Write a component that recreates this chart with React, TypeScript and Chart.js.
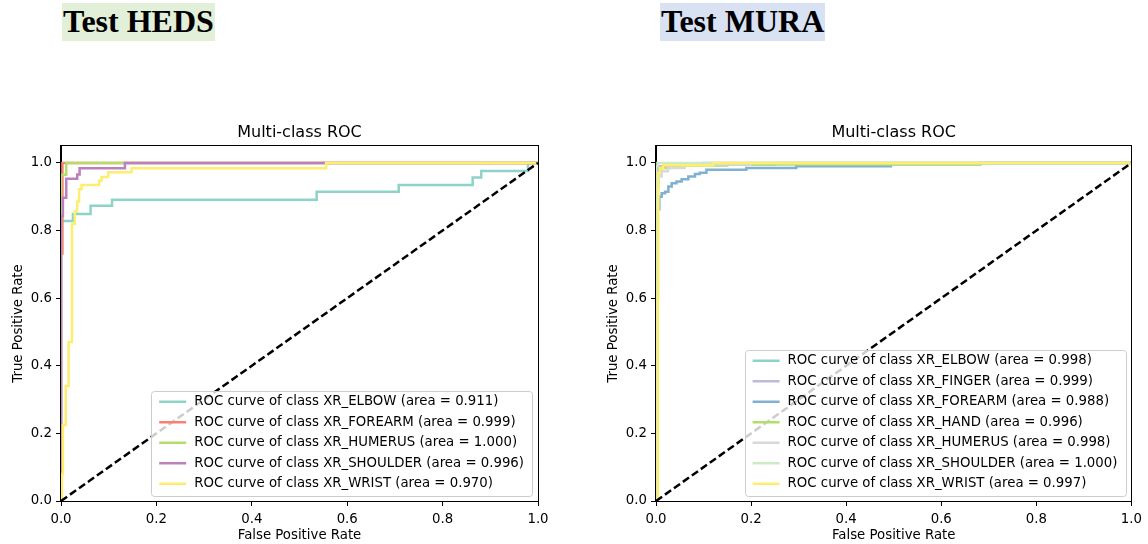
import React, { useEffect, useRef } from "react";
import { Chart, registerables } from "chart.js";

Chart.register(...registerables);

const FONT = "'DejaVu Sans', 'Liberation Sans', sans-serif";

// ---- tick labels ----
const xTicks = [0, 0.2, 0.4, 0.6, 0.8, 1.0];
const yTicks = [0, 0.2, 0.4, 0.6, 0.8, 1.0];

// ---- diagonal (chance) line ----
const diagX = [0, 1];
const diagY = [0, 1];

// ---- Test HEDS ----
const hedsClasses = ["XR_ELBOW", "XR_FOREARM", "XR_HUMERUS", "XR_SHOULDER", "XR_WRIST"];
const hedsAreas = [0.911, 0.999, 1.0, 0.996, 0.97];

const hedsElbowFpr = [0, 0, 0.025, 0.025, 0.062, 0.062, 0.107, 0.107, 0.536, 0.536, 0.708, 0.708, 0.863, 0.863, 0.881, 0.881, 0.979, 0.979, 1];
const hedsElbowTpr = [0, 0.828, 0.828, 0.849, 0.849, 0.873, 0.873, 0.891, 0.891, 0.915, 0.915, 0.935, 0.935, 0.957, 0.957, 0.976, 0.976, 1, 1];

const hedsForearmFpr = [0, 0, 0.003, 0.003, 1];
const hedsForearmTpr = [0, 0.732, 0.732, 1, 1];

const hedsHumerusFpr = [0, 0, 0.011, 0.011, 1];
const hedsHumerusTpr = [0, 0.965, 0.965, 1, 1];

const hedsShoulderFpr = [0, 0, 0.004, 0.004, 0.011, 0.011, 0.034, 0.034, 0.039, 0.039, 0.134, 0.134, 1];
const hedsShoulderTpr = [0, 0.843, 0.843, 0.897, 0.897, 0.953, 0.953, 0.966, 0.966, 0.984, 0.984, 1, 1];

const hedsWristFpr = [0, 0.002, 0.002, 0.004, 0.004, 0.01, 0.01, 0.016, 0.016, 0.023, 0.023, 0.029, 0.029, 0.034, 0.034, 0.038, 0.038, 0.043, 0.043, 0.08, 0.08, 0.085, 0.085, 0.099, 0.099, 0.148, 0.148, 0.556, 0.556, 1];
const hedsWristTpr = [0, 0, 0.08, 0.08, 0.225, 0.225, 0.34, 0.34, 0.47, 0.47, 0.819, 0.819, 0.856, 0.856, 0.886, 0.886, 0.922, 0.922, 0.935, 0.935, 0.948, 0.948, 0.958, 0.958, 0.972, 0.972, 0.984, 0.984, 1, 1];

// ---- Test MURA ----
const muraClasses = ["XR_ELBOW", "XR_FINGER", "XR_FOREARM", "XR_HAND", "XR_HUMERUS", "XR_SHOULDER", "XR_WRIST"];
const muraAreas = [0.998, 0.999, 0.988, 0.996, 0.998, 1.0, 0.997];

const muraElbowFpr = [0, 0, 0.005, 0.005, 0.01, 0.01, 0.05, 0.05, 0.25, 0.25, 1];
const muraElbowTpr = [0, 0.93, 0.93, 0.98, 0.98, 0.99, 0.99, 0.995, 0.995, 1, 1];

const muraFingerFpr = [0, 0, 0.004, 0.004, 0.02, 0.02, 0.1, 0.1, 1];
const muraFingerTpr = [0, 0.95, 0.95, 0.99, 0.99, 0.996, 0.996, 1, 1];

const muraForearmFpr = [0, 0, 0.007, 0.007, 0.012, 0.012, 0.019, 0.019, 0.026, 0.026, 0.033, 0.033, 0.043, 0.043, 0.054, 0.054, 0.068, 0.068, 0.082, 0.082, 0.092, 0.092, 0.106, 0.106, 0.19, 0.19, 0.295, 0.295, 0.494, 0.494, 0.683, 0.683, 1];
const muraForearmTpr = [0, 0.863, 0.863, 0.9, 0.9, 0.91, 0.91, 0.915, 0.915, 0.93, 0.93, 0.94, 0.94, 0.945, 0.945, 0.952, 0.952, 0.96, 0.96, 0.967, 0.967, 0.971, 0.971, 0.98, 0.98, 0.985, 0.985, 0.99, 0.99, 0.996, 0.996, 1, 1];

const muraHandFpr = [0, 0, 0.004, 0.004, 0.01, 0.01, 0.03, 0.03, 0.15, 0.15, 0.68, 0.68, 1];
const muraHandTpr = [0, 0.9, 0.9, 0.97, 0.97, 0.985, 0.985, 0.992, 0.992, 0.995, 0.995, 1, 1];

const muraHumerusFpr = [0, 0, 0.004, 0.004, 0.012, 0.012, 0.025, 0.025, 0.06, 0.06, 0.2, 0.2, 1];
const muraHumerusTpr = [0, 0.9, 0.9, 0.96, 0.96, 0.975, 0.975, 0.985, 0.985, 0.995, 0.995, 1, 1];

const muraShoulderFpr = [0, 0, 0.003, 0.003, 1];
const muraShoulderTpr = [0, 0.99, 0.99, 1, 1];

const muraWristFpr = [0, 0.004, 0.004, 0.005, 0.005, 0.008, 0.008, 0.015, 0.015, 0.12, 0.12, 1];
const muraWristTpr = [0, 0, 0.6, 0.6, 0.97, 0.97, 0.985, 0.985, 0.993, 0.993, 1, 1];

// ---- colours (matplotlib Set3 sampled) ----
const hedsColors = ["#8dd3c7", "#fb8072", "#b3de69", "#bc80bd", "#ffed6f"];
const muraColors = ["#8dd3c7", "#bebada", "#80b1d3", "#b3de69", "#d9d9d9", "#ccebc5", "#ffed6f"];

type RocProps = {
  classes: string[];
  areas: number[];
  fprs: number[][];
  tprs: number[][];
  colors: string[];
  padLeft: number;
  padRight: number;
};

const W = 574;
const H = 434;

function RocChart({ classes, areas, fprs, tprs, colors, padLeft, padRight }: RocProps) {
  const ref = useRef<HTMLCanvasElement | null>(null);

  useEffect(() => {
    if (!ref.current) return;
    const n = classes.length;
    const datasets: any[] = classes.map((c, i) => ({
      label: c,
      data: fprs[i].map((x, j) => ({ x, y: tprs[i][j] })),
      showLine: true,
      borderColor: colors[i],
      backgroundColor: colors[i],
      borderWidth: 2.5,
      pointRadius: 0,
      tension: 0,
      fill: false,
      order: n - i + 1,
    }));
    datasets.push({
      label: "chance",
      data: diagX.map((x, j) => ({ x, y: diagY[j] })),
      showLine: true,
      borderColor: "#000",
      borderWidth: 2.5,
      borderDash: [7.5, 3.5],
      pointRadius: 0,
      fill: false,
      order: 0,
    });

    const overlay = {
      id: "rocOverlay",
      afterDatasetsDraw(chart: any) {
        const { ctx, chartArea: a } = chart;
        ctx.save();
        // frame (spines)
        ctx.strokeStyle = "#000";
        ctx.lineWidth = 1;
        const l = Math.round(a.left) - 0.5;
        const r = Math.round(a.right) + 0.5;
        const t = Math.round(a.top) - 0.5;
        const b = Math.round(a.bottom) + 0.5;
        ctx.strokeRect(l, t, r - l, b - t);

        // title
        ctx.fillStyle = "#000";
        ctx.font = `16px ${FONT}`;
        ctx.textAlign = "center";
        ctx.textBaseline = "middle";
        ctx.fillText("Multi-class ROC", (a.left + a.right) / 2, a.top - 13);

        // legend
        ctx.font = `13.3px ${FONT}`;
        const labels = classes.map((c, i) => `ROC curve of class ${c} (area = ${areas[i].toFixed(3)})`);
        const tw = Math.max(...labels.map((s) => ctx.measureText(s).width));
        const w = 43 + tw + 8;
        const h = n * 20.5 + 2;
        const right = a.right - 6;
        const bottom = a.bottom - 6;
        const left = right - w;
        const top = bottom - h;
        ctx.beginPath();
        if ((ctx as any).roundRect) (ctx as any).roundRect(Math.round(left) + 0.5, Math.round(top) + 0.5, Math.round(w), Math.round(h), 3);
        else ctx.rect(Math.round(left) + 0.5, Math.round(top) + 0.5, Math.round(w), Math.round(h));
        ctx.fillStyle = "rgba(255,255,255,0.8)";
        ctx.fill();
        ctx.strokeStyle = "#cccccc";
        ctx.lineWidth = 1;
        ctx.stroke();
        labels.forEach((s, i) => {
          const cy = top + 11.25 + i * 20.5;
          ctx.beginPath();
          ctx.strokeStyle = colors[i];
          ctx.lineWidth = 2.5;
          ctx.moveTo(left + 8, cy);
          ctx.lineTo(left + 35, cy);
          ctx.stroke();
          ctx.fillStyle = "#000";
          ctx.textAlign = "left";
          ctx.textBaseline = "middle";
          ctx.fillText(s, left + 43, cy);
        });
        ctx.restore();
      },
    };

    const tickFont = { family: FONT, size: 13.3 };
    const chart = new Chart(ref.current, {
      type: "scatter",
      data: { datasets },
      options: {
        animation: false,
        responsive: false,
        maintainAspectRatio: false,
        events: [],
        layout: { padding: { left: padLeft, right: padRight, top: 36, bottom: 0 } },
        plugins: {
          legend: { display: false },
          tooltip: { enabled: false },
          title: { display: false },
        },
        scales: {
          x: {
            type: "linear",
            min: 0,
            max: 1,
            afterBuildTicks: (s: any) => {
              s.ticks = xTicks.map((v) => ({ value: v }));
            },
            afterFit: (s: any) => {
              s.height = 43;
            },
            ticks: {
              callback: (v: any) => Number(v).toFixed(1),
              color: "#000",
              font: tickFont,
              padding: 6,
              maxRotation: 0,
              autoSkip: false,
            },
            grid: { display: true, drawOnChartArea: false, drawTicks: true, tickLength: 5, color: "#000", lineWidth: 1 },
            border: { display: true, color: "#000", width: 1 },
            title: { display: true, text: "False Positive Rate", color: "#000", font: tickFont, padding: { top: 0, bottom: 0 } },
          },
          y: {
            type: "linear",
            min: 0,
            max: 1.05,
            afterBuildTicks: (s: any) => {
              s.ticks = yTicks.map((v) => ({ value: v }));
            },
            afterFit: (s: any) => {
              s.width = 61;
            },
            ticks: {
              callback: (v: any) => Number(v).toFixed(1),
              color: "#000",
              font: tickFont,
              padding: 4,
              autoSkip: false,
            },
            grid: { display: true, drawOnChartArea: false, drawTicks: true, tickLength: 5, color: "#000", lineWidth: 1 },
            border: { display: true, color: "#000", width: 1 },
            title: { display: true, text: "True Positive Rate", color: "#000", font: tickFont, padding: { top: 11, bottom: 0 } },
          },
        },
      } as any,
      plugins: [overlay],
    });
    return () => chart.destroy();
  }, []);

  return <canvas ref={ref} width={W} height={H} style={{ width: W, height: H, display: "block" }} />;
}

const headerStyle: React.CSSProperties = {
  position: "absolute",
  top: 3,
  height: 38,
  lineHeight: "38px",
  font: "bold 32px 'Liberation Serif', 'Times New Roman', serif",
  color: "#000",
  padding: "0 1px",
  whiteSpace: "nowrap",
};

export default function App() {
  return (
    <div style={{ position: "absolute", left: 0, top: 0, width: 1148, height: 544, background: "#fff", overflow: "hidden" }}>
      <div style={{ ...headerStyle, left: 62, background: "#e2efd9" }}>Test HEDS</div>
      <div style={{ ...headerStyle, left: 660, background: "#d9e2f3" }}>Test MURA</div>
      <div style={{ position: "absolute", left: 0, top: 110 }}>
        <RocChart
          classes={hedsClasses}
          areas={hedsAreas}
          fprs={[hedsElbowFpr, hedsForearmFpr, hedsHumerusFpr, hedsShoulderFpr, hedsWristFpr]}
          tprs={[hedsElbowTpr, hedsForearmTpr, hedsHumerusTpr, hedsShoulderTpr, hedsWristTpr]}
          colors={hedsColors}
          padLeft={0}
          padRight={36}
        />
      </div>
      <div style={{ position: "absolute", left: 574, top: 110 }}>
        <RocChart
          classes={muraClasses}
          areas={muraAreas}
          fprs={[muraElbowFpr, muraFingerFpr, muraForearmFpr, muraHandFpr, muraHumerusFpr, muraShoulderFpr, muraWristFpr]}
          tprs={[muraElbowTpr, muraFingerTpr, muraForearmTpr, muraHandTpr, muraHumerusTpr, muraShoulderTpr, muraWristTpr]}
          colors={muraColors}
          padLeft={21}
          padRight={15}
        />
      </div>
    </div>
  );
}
